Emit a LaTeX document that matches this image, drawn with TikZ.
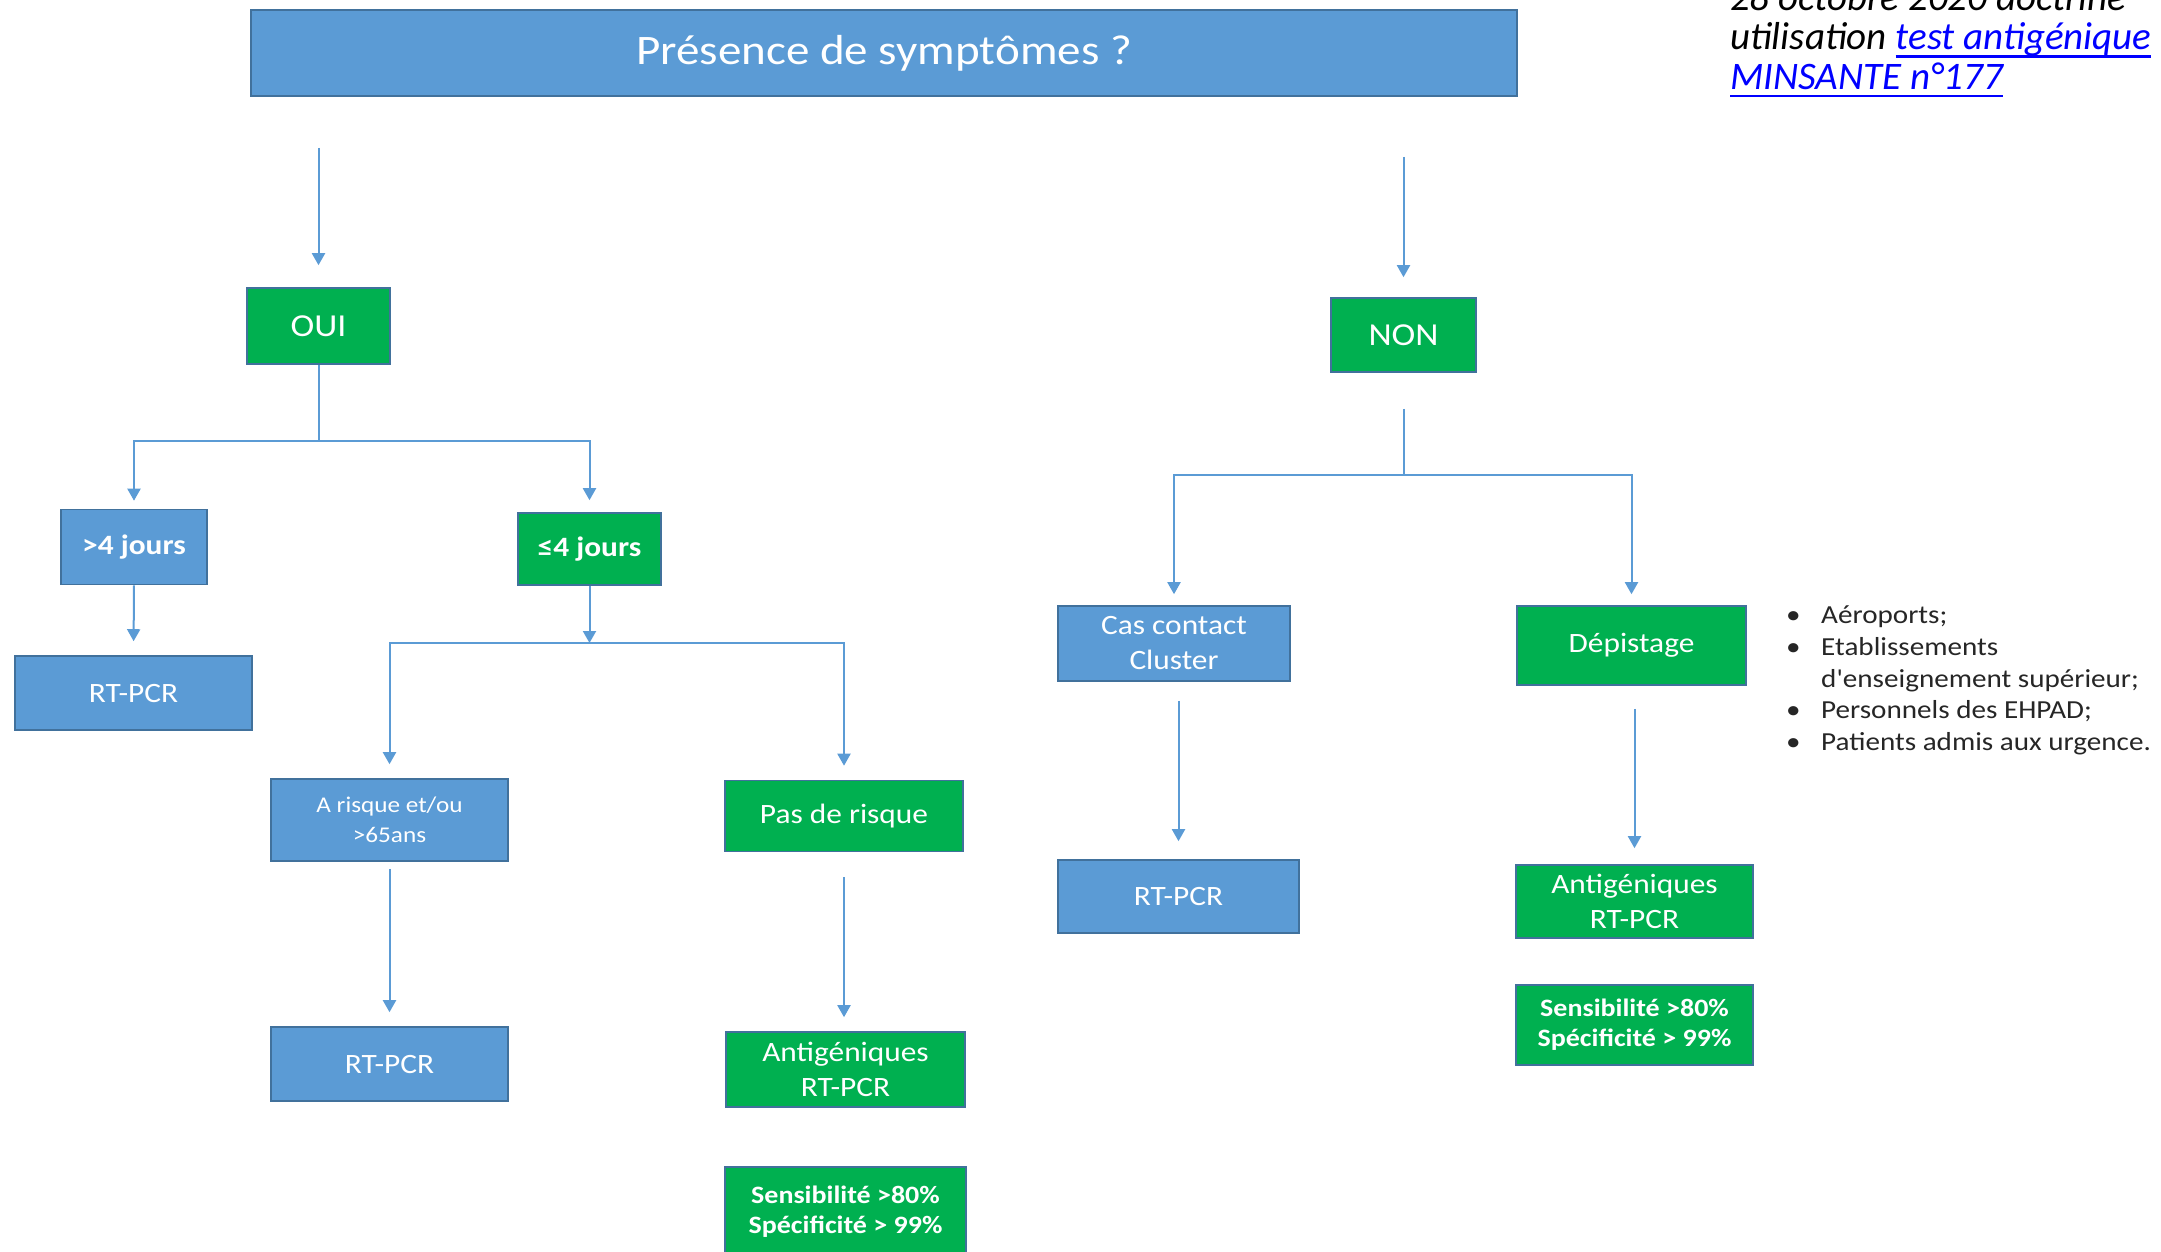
\documentclass[tikz,border=0pt]{standalone}
\usepackage{fontspec}
\setmainfont{Carlito}
\newfontfamily\boxfont{Carlito}[FakeStretch=1.12]
\usetikzlibrary{arrows.meta}
\definecolor{bluefill}{HTML}{5B9BD5}
\definecolor{greenfill}{HTML}{00B050}
\definecolor{boxedge}{HTML}{41719C}
\definecolor{arrowblue}{HTML}{5B9BD5}
\definecolor{linkblue}{HTML}{0000FF}
\definecolor{bullettext}{HTML}{262626}
\newcommand\myul[1]{\setbox0=\hbox{#1}\rlap{\rule[-8pt]{\wd0}{2.5pt}}\box0}
\begin{document}
\begin{tikzpicture}[x=1pt,y=-1pt,
  box/.style={draw=boxedge, line width=1.6pt, text=white, align=center, inner sep=0pt,
    font=\boxfont\fontsize{28}{35}\selectfont},
  bluebox/.style={box, fill=bluefill},
  greenbox/.style={box, fill=greenfill},
  conn/.style={draw=arrowblue, line width=2pt},
  arr/.style={conn, -{Triangle[width=13pt,length=12pt]}},
  bul/.style={anchor=base west, inner sep=0pt, text=bullettext,
    font=\boxfont\fontsize{26}{29}\selectfont}
]
\useasboundingbox (0,0) rectangle (2161,1251);

% nodes
\node[bluebox, minimum width=1266pt, minimum height=86pt, font=\boxfont\fontsize{42}{50}\selectfont] (title) at (884,53) {Présence de symptômes ?};
\node[greenbox, minimum width=143pt, minimum height=76pt, font=\boxfont\fontsize{32}{38}\selectfont] (oui) at (318.5,326) {OUI};
\node[greenbox, minimum width=145pt, minimum height=74pt, font=\boxfont\fontsize{32}{38}\selectfont] (non) at (1403.5,335) {NON};
\node[bluebox, minimum width=146pt, minimum height=75pt, font=\boxfont\bfseries\fontsize{28}{34}\selectfont] (g4) at (134,547) {>4 jours};
\node[greenbox, minimum width=143pt, minimum height=72pt, font=\boxfont\bfseries\fontsize{28}{34}\selectfont] (l4) at (589.5,549) {≤4 jours};
\node[bluebox, minimum width=237pt, minimum height=74pt] (rt1) at (133.5,693) {RT-PCR};
\node[bluebox, minimum width=237pt, minimum height=82pt, font=\boxfont\fontsize{22.5}{30}\selectfont] (risk) at (389.5,820) {A risque et/ou\\>65ans};
\node[greenbox, minimum width=238pt, minimum height=71pt] (norisk) at (844,816) {Pas de risque};
\node[bluebox, minimum width=237pt, minimum height=74pt] (rt2) at (389.5,1064) {RT-PCR};
\node[greenbox, minimum width=239pt, minimum height=75pt] (ag1) at (845.5,1069.5) {Antigéniques\\RT-PCR};
\node[greenbox, minimum width=241pt, minimum height=90pt, font=\boxfont\bfseries\fontsize{25}{30}\selectfont] (sens1) at (845.5,1212) {Sensibilité >80\%\\Spécificité > 99\%};
\node[bluebox, minimum width=232pt, minimum height=75pt] (cas) at (1174,643.5) {Cas contact\\Cluster};
\node[greenbox, minimum width=229pt, minimum height=79pt] (dep) at (1631.5,645.5) {Dépistage};
\node[bluebox, minimum width=241pt, minimum height=73pt] (rt3) at (1178.5,896.5) {RT-PCR};
\node[greenbox, minimum width=237pt, minimum height=73pt] (ag2) at (1634.5,901.5) {Antigéniques\\RT-PCR};
\node[greenbox, minimum width=237pt, minimum height=80pt, font=\boxfont\bfseries\fontsize{25}{30}\selectfont] (sens2) at (1634.5,1025) {Sensibilité >80\%\\Spécificité > 99\%};

% reference text (top right); base anchor = baseline of the last line
\node[anchor=base west, inner sep=0pt, align=left, font=\itshape\fontsize{39}{39.5}\selectfont] (ref) at (1730,89)
  {28 octobre 2020 doctrine\\utilisation \textcolor{linkblue}{\myul{test antigénique}}\\\textcolor{linkblue}{\myul{MINSANTE n°177}}};

% bullet list
\node[bul] (d1) at (1786,623) {•};
\node[bul] (t1) at (1821,623) {Aéroports;};
\node[bul] (d2) at (1786,655) {•};
\node[bul] (t2) at (1821,655) {Etablissements};
\node[bul] (t2b) at (1821,687) {d'enseignement supérieur;};
\node[bul] (d3) at (1786,718) {•};
\node[bul] (t3) at (1821,718) {Personnels des EHPAD;};
\node[bul] (d4) at (1786,750) {•};
\node[bul] (t4) at (1821,750) {Patients admis aux urgence.};

% junction coordinates
\coordinate (j1) at (318.5,441);
\coordinate (j2) at (589.5,643);
\coordinate (j3) at (1403.5,475);

% connectors
\draw[arr, shorten <=51pt, shorten >=22pt] (title.south -| oui.north) -- (oui.north);
\draw[arr, shorten <=60pt, shorten >=20pt] (title.south -| non.north) -- (non.north);

\draw[conn] (oui.south) -- (j1);
\draw[arr, shorten >=8pt] (j1) -| (g4.north);
\draw[arr, shorten >=12pt] (j1) -| (l4.north);
\draw[arr, shorten >=14pt] (g4.south) -- (rt1.north);

\draw[arr] (l4.south) -- (j2);
\draw[arr, shorten >=14pt] (j2) -| (risk.north);
\draw[arr, shorten >=14pt] (j2) -| (norisk.north);
\draw[arr, shorten <=7pt, shorten >=14pt] (risk.south) -- (rt2.north);
\draw[arr, shorten <=25pt, shorten >=14pt] (norisk.south) -- (ag1.north -| norisk.south);

\draw[conn, shorten <=36pt] (non.south) -- (j3);
\draw[arr, shorten >=11pt] (j3) -| (cas.north);
\draw[arr, shorten >=11pt] (j3) -| (dep.north);
\draw[arr, shorten <=19pt, shorten >=18pt] (cas.south -| rt3.north) -- (rt3.north);
\draw[arr, shorten <=23pt, shorten >=16pt] (dep.south -| ag2.north) -- (ag2.north);
\end{tikzpicture}
\end{document}
